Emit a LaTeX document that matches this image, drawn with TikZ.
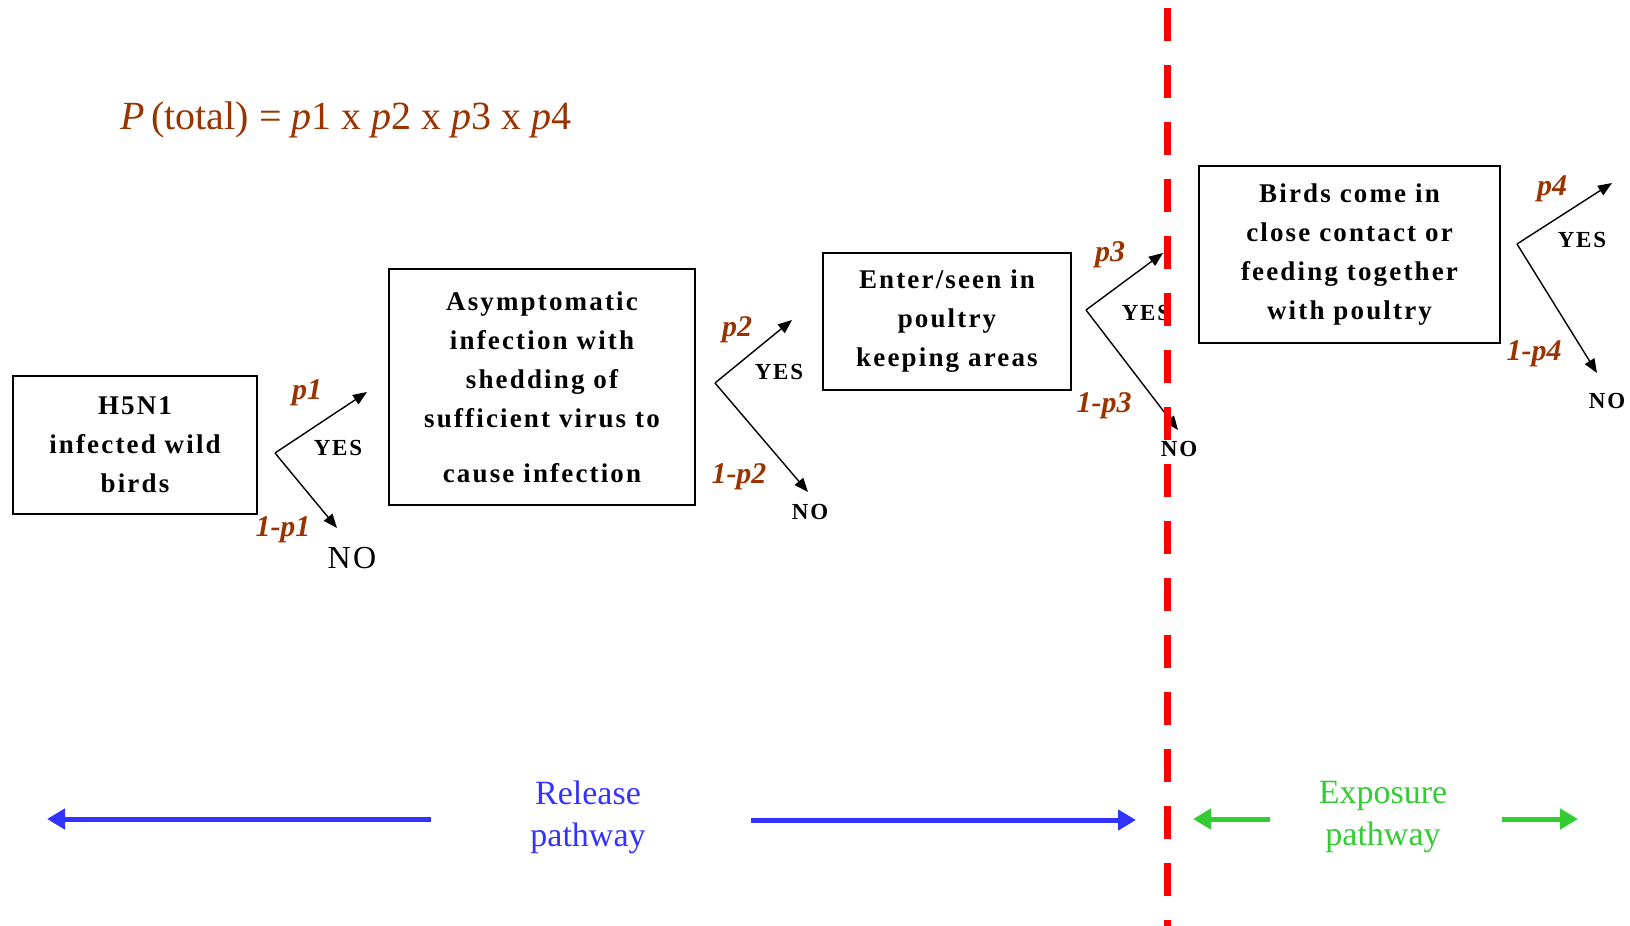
\documentclass[tikz,border=0pt]{standalone}
\usepackage{fontspec}
\setmainfont{Liberation Serif}
\newfontfamily\boxfont[LetterSpace=8]{Liberation Serif}
\usetikzlibrary{arrows.meta}

\definecolor{probbrown}{RGB}{153,51,0}
\definecolor{relblue}{RGB}{51,51,255}
\definecolor{expgreen}{RGB}{51,204,51}
\definecolor{cutred}{RGB}{255,0,0}

\tikzset{
	stage/.style={draw, line width=0.9pt, align=center, inner sep=0pt,
			font=\boxfont\bfseries\fontsize{13.5}{19.5}\selectfont},
	branch/.style={line width=0.7pt, -{Triangle[length=7pt,width=5.5pt]}},
	prob/.style={text=probbrown, font=\bfseries\itshape\fontsize{15}{18}\selectfont},
	answer/.style={font=\boxfont\bfseries\fontsize{11.5}{14}\selectfont},
	flow/.style={line width=2.5pt, -{Triangle[length=9pt,width=10pt]}},
	pathlabel/.style={align=center, font=\fontsize{17}{21}\selectfont},
}

\begin{document}
\begin{tikzpicture}[x=0.5pt,y=-0.5pt]
	\useasboundingbox (0,0) rectangle (1630,926);

	\node [text=probbrown, font=\fontsize{20}{24}\selectfont] (total) at (346,120)
		{\textit{P}\,(total) = \textit{p}1 x \textit{p}2 x \textit{p}3 x \textit{p}4};

	% Stages of the pathway
	\node [stage, minimum width=122pt, minimum height=69pt] (wild) at (135,445)
		{H5N1\\infected wild\\birds};
	\node [stage, minimum width=153pt, minimum height=118pt] (shed) at (542,387)
		{Asymptomatic\\infection with\\shedding of\\sufficient virus to\\[8pt]cause infection};
	\node [stage, minimum width=124pt, minimum height=68.5pt] (enter) at (947,321.5)
		{Enter/seen in\\poultry\\keeping areas};
	\node [stage, minimum width=150.5pt, minimum height=88.5pt] (contact) at (1349.5,254.5)
		{Birds come in\\close contact or\\feeding together\\with poultry};

	% Yes/no branches after each stage
	\foreach \k/\vx/\vy/\yx/\yy/\nx/\ny in {1/275/453/367/392/337/528,
			2/715/383/792/320/808/492, 3/1086/310/1163/253/1178/430,
			4/1517/244/1612/183/1597/373}{
			\coordinate (v-\k) at (\vx,\vy);
			\coordinate (y-\k) at (\yx,\yy);
			\coordinate (n-\k) at (\nx,\ny);
			\draw [branch] (v-\k) -- (y-\k);
			\draw [branch] (v-\k) -- (n-\k);
		}

	\foreach \k/\px/\py/\ax/\ay/\qx/\qy/\bx/\by in {1/307/393/338/448/283/530/352/558,
			2/737/330/779/372/739/477/810/512, 3/1110/255/1146/313/1104/406/1179/449,
			4/1552/189/1582/240/1534/354/1607/401}{
			\node [prob] (p-\k) at (\px,\py) {p\k};
			\node [answer] (yes-\k) at (\ax,\ay) {YES};
			\node [prob] (q-\k) at (\qx,\qy) {1-p\k};
			\ifnum\k=1
				\node [font=\boxfont\fontsize{16}{18}\selectfont] (no-\k) at (\bx,\by) {NO};
			\else
				\node [answer] (no-\k) at (\bx,\by) {NO};
			\fi
		}

	% Split between release and exposure
	\coordinate (cut-top) at (1167,0);
	\coordinate (cut-bot) at (1167,926);
	\draw [cutred, line width=3.5pt, dash pattern=on 16.5pt off 12pt, dash phase=24.5pt]
		(cut-top) -- (cut-bot);

	\node [pathlabel, text=relblue] (release) at (588,817) {Release\\pathway};
	\node [pathlabel, text=expgreen] (exposure) at (1383,817) {Exposure\\pathway};

	\coordinate (rel-l) at (47,819);
	\coordinate (rel-a) at (431,819);
	\coordinate (rel-b) at (751,820);
	\coordinate (rel-r) at (1136,820);
	\draw [flow, relblue] (rel-a) -- (rel-l);
	\draw [flow, relblue] (rel-b) -- (rel-r);

	\coordinate (exp-l) at (1193,819);
	\coordinate (exp-a) at (1270,819);
	\coordinate (exp-b) at (1502,819);
	\coordinate (exp-r) at (1578,819);
	\draw [flow, expgreen] (exp-a) -- (exp-l);
	\draw [flow, expgreen] (exp-b) -- (exp-r);
\end{tikzpicture}
\end{document}
